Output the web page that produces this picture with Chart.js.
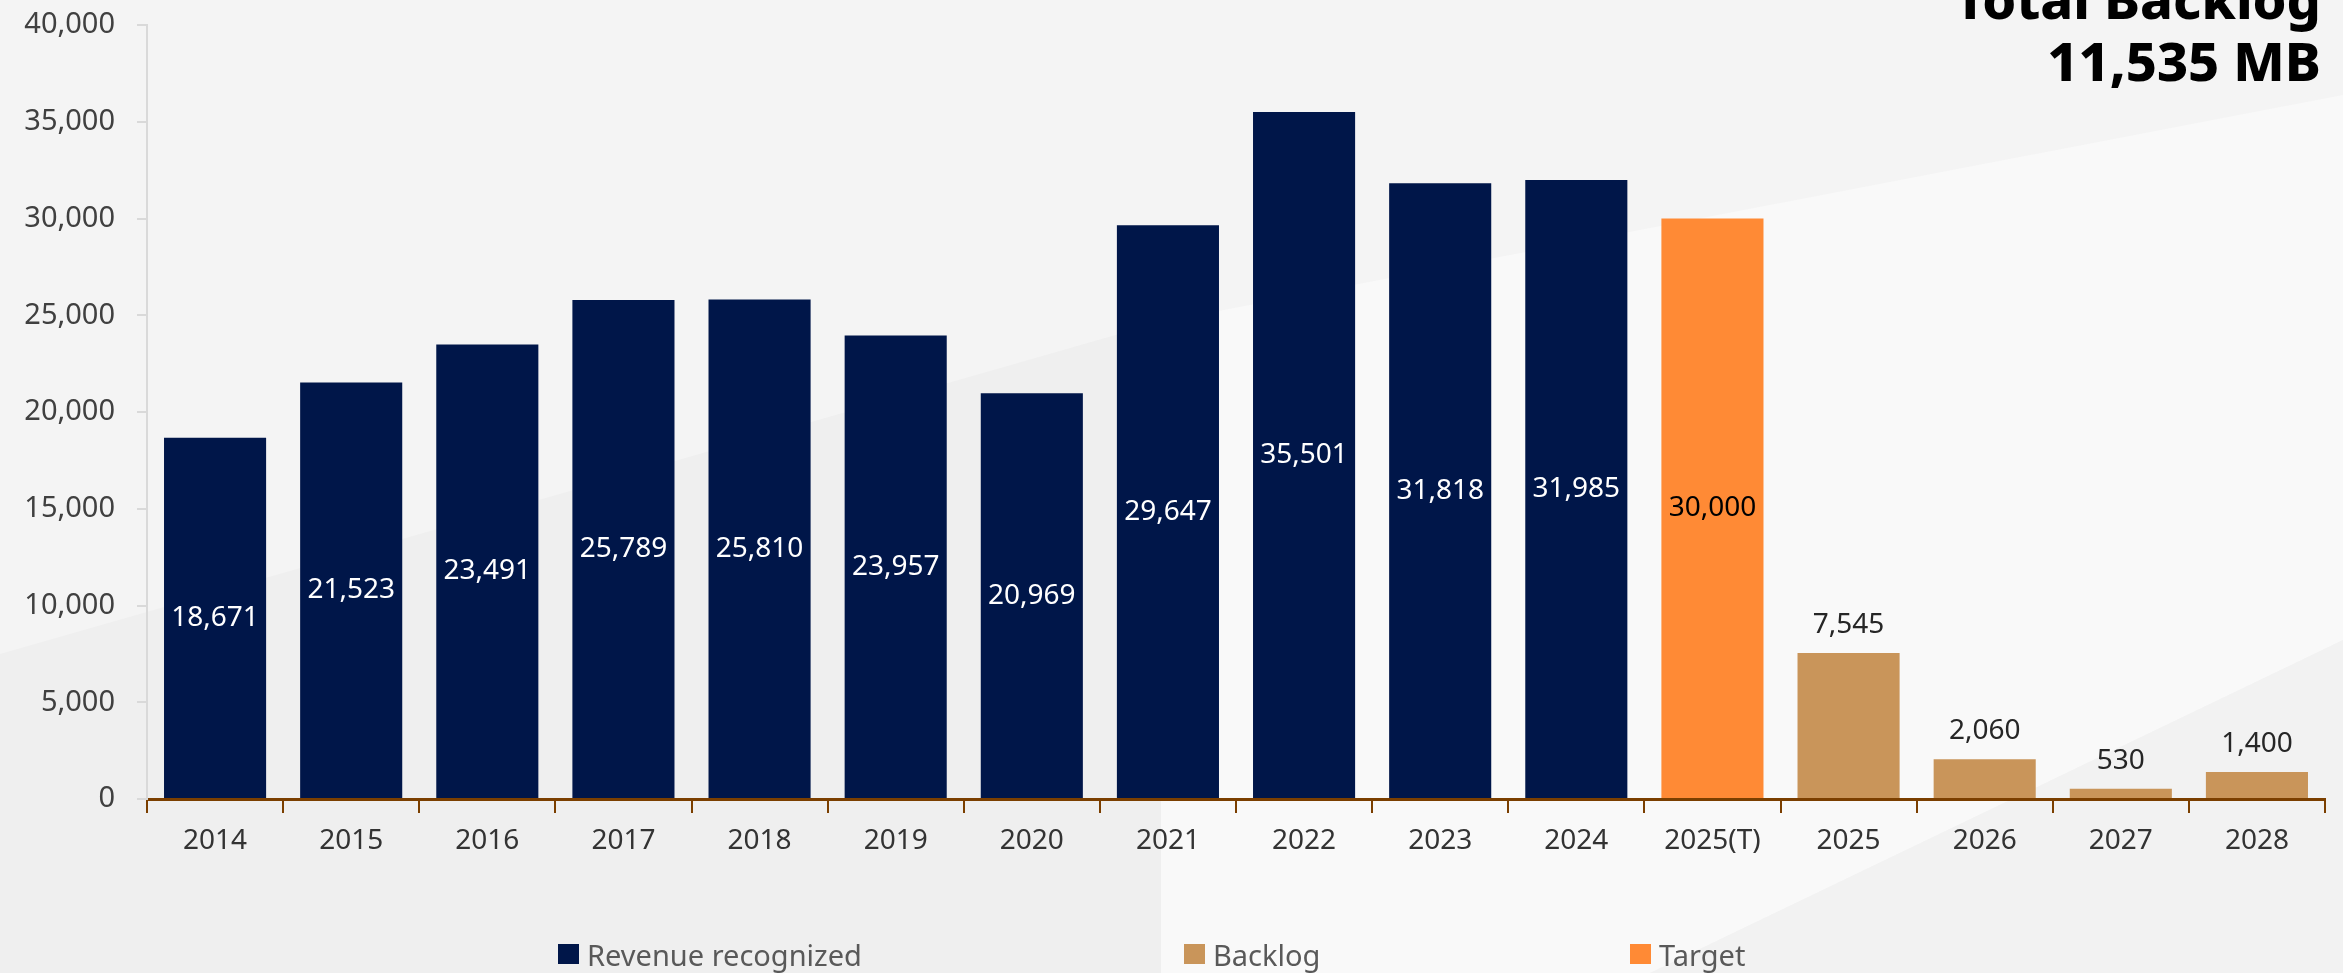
<!DOCTYPE html>
<html>
<head>
<meta charset="utf-8">
<script src="https://cdn.jsdelivr.net/npm/chart.js@4.4.1/dist/chart.umd.min.js"></script>
<style>
  html, body { margin: 0; padding: 0; }
  body { width: 2343px; height: 973px; overflow: hidden; background: #f4f4f4; position: relative; font-family: "Noto Sans", sans-serif; }
  .bg { position: absolute; left: 0; top: 0; width: 2343px; height: 973px; }
  .bg-dark { background: #efefef; clip-path: polygon(0 654px, 1161px 322px, 1161px 973px, 0 973px); }
  .bg-light { background: #f9f9f9; clip-path: polygon(1161px 322px, 2343px 95px, 2343px 640px, 1650px 973px, 1161px 973px); }
  .bg-corner { background: #f2f2f2; clip-path: polygon(1650px 973px, 2343px 640px, 2343px 973px); }
  #wrap { position: absolute; left: 0; top: 0; width: 2343px; height: 973px; }
  .title { position: absolute; right: 22px; top: -33px; text-align: right; font-weight: 800; font-size: 54px; line-height: 62px; color: #000; }
  .legend { position: absolute; top: 935px; height: 38px; display: flex; align-items: center; font-size: 29px; color: #595959; }
  .legend span.box { display: inline-block; width: 21px; height: 20px; margin-right: 8px; }
</style>
</head>
<body>
<div class="bg bg-dark"></div>
<div class="bg bg-light"></div>
<div class="bg bg-corner"></div>
<div id="wrap"><canvas id="backlog-chart" width="2343" height="973"></canvas></div>
<div class="title">Total Backlog<br>11,535 MB</div>
<div class="legend" style="left:558px"><span class="box" style="background:#001649"></span>Revenue recognized</div>
<div class="legend" style="left:1184px"><span class="box" style="background:#c9955a"></span>Backlog</div>
<div class="legend" style="left:1630px"><span class="box" style="background:#ff8a35"></span>Target</div>
<script>
// categories on the horizontal axis
const years = ['2014', '2015', '2016', '2017', '2018', '2019', '2020', '2021', '2022', '2023', '2024', '2025(T)', '2025', '2026', '2027', '2028']

// series values (MB), null where the series has no bar
const revenue = [18671, 21523, 23491, 25789, 25810, 23957, 20969, 29647, 35501, 31818, 31985, null, null, null, null, null]
const target = [null, null, null, null, null, null, null, null, null, null, null, 30000, null, null, null, null]
const backlog = [null, null, null, null, null, null, null, null, null, null, null, null, 7545, 2060, 530, 1400]

// y axis range
const yMin = 0
const yMax = 40000
const yStep = 5000

// draws the number on each bar
const valueLabels = {
  id: 'valueLabels',
  afterDatasetsDraw(chart) {
    const ctx = chart.ctx
    chart.data.datasets.forEach((ds, i) => {
      const meta = chart.getDatasetMeta(i)
      meta.data.forEach((bar, j) => {
        const v = ds.data[j]
        if (v == null) return
        const txt = v.toLocaleString('en-US')
        ctx.save()
        ctx.font = '28px "Noto Sans"'
        ctx.textAlign = 'center'
        ctx.fillStyle = ds.labelColor
        if (ds.labelOnTop) {
          ctx.textBaseline = 'alphabetic'
          ctx.fillText(txt, bar.x, bar.y - 20)
        } else {
          ctx.textBaseline = 'middle'
          ctx.fillText(txt, bar.x, (bar.y + bar.base) / 2)
        }
        ctx.restore()
      })
    })
  }
}

const chartCanvas = document.querySelector('#backlog-chart')

const backlogChart = new Chart(chartCanvas, {
  type: 'bar',
  data: {
    labels: years,
    datasets: [
      {
        label: 'Revenue recognized',
        data: revenue,
        backgroundColor: '#001649',
        labelColor: '#ffffff'
      },
      {
        label: 'Backlog',
        data: backlog,
        backgroundColor: '#c9955a',
        labelColor: '#262626',
        labelOnTop: true
      },
      {
        label: 'Target',
        data: target,
        backgroundColor: '#ff8a35',
        labelColor: '#000000'
      }
    ]
  },
  options: {
    responsive: false,
    animation: false,
    categoryPercentage: 1,
    barPercentage: 0.75,
    layout: {
      padding: { top: 25, right: 18, bottom: 0, left: 0 }
    },
    plugins: {
      legend: { display: false },
      tooltip: { enabled: false }
    },
    scales: {
      x: {
        stacked: true,
        grid: {
          drawOnChartArea: false,
          color: '#7b3f00',
          lineWidth: 2,
          tickLength: 14
        },
        border: { color: '#7b3f00', width: 3 },
        ticks: {
          color: '#333333',
          padding: 11,
          font: { family: 'Noto Sans', size: 28 }
        },
        afterFit: function(scale) { scale.height = 174 }
      },
      y: {
        stacked: true,
        min: yMin,
        max: yMax,
        grid: {
          drawOnChartArea: false,
          color: '#d9d9d9',
          lineWidth: 2,
          tickLength: 10
        },
        border: { color: '#d9d9d9', width: 2 },
        ticks: {
          stepSize: yStep,
          color: '#404040',
          padding: 22,
          font: { family: 'Noto Sans', size: 29 },
          callback: function(value) {
            return value.toLocaleString('en-US')
          }
        },
        afterFit: function(scale) {
          scale.width = 147
          scale.paddingTop = 10
          scale.paddingBottom = 10
        }
      }
    }
  },
  plugins: [valueLabels]
})
</script>
</body>
</html>
